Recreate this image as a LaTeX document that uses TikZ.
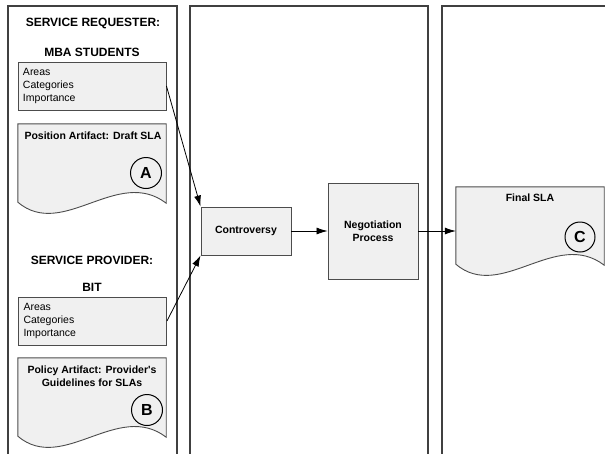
\documentclass[tikz,border=0pt]{standalone}
\usepackage{fontspec}
\setmainfont{Liberation Sans}
\usetikzlibrary{arrows.meta,calc}

\begin{document}
\begin{tikzpicture}[x=1pt, y=-1pt, >={Latex[length=11pt,width=7pt]},
      every node/.append style={font=\fontsize{10.5}{13}\selectfont},
      lane/.style={draw=black!75,line width=1.1pt},
      arr/.style={->,draw=black,line width=0.8pt}]
    \tikzstyle{box} = [rectangle,draw=black!70,fill=gray!12,line width=0.9pt]
    \tikzstyle{head} = [font=\fontsize{12}{14}\selectfont\bfseries]
    \tikzstyle{title} = [font=\fontsize{10.5}{13}\selectfont\bfseries,align=center,anchor=north]
    \tikzstyle{doc} = [rectangle,inner sep=0pt,minimum width=148pt,minimum height=78pt]
    \tikzstyle{tag} = [circle,draw=black,line width=1pt,minimum size=31pt,inner sep=0pt,
                       font=\fontsize{16}{16}\selectfont\bfseries]
    \tikzstyle{items} = [box,minimum width=148pt,minimum height=48pt,text width=138pt,
                         inner xsep=5pt,align=left]
    \clip (0,0) rectangle (605,453);
    \draw[lane] (8,460) -- (8,6) -- (177,6) -- (177,460);
    \draw[lane] (190,460) -- (190,6) -- (428,6) -- (428,460);
    \draw[lane] (442,460) -- (442,6) -- (620,6);

    \node[head] (requester) at (93,23) {SERVICE REQUESTER:};
    \node[head] (mba_head) at (92,52) {MBA STUDENTS};
    \node[items] (mba) at (92,86) {Areas\\Categories\\Importance};
    \node[doc] (draftsla) at (92,163) {};

    \node[head] (provider) at (92,260) {SERVICE PROVIDER:};
    \node[head] (bit_head) at (92,287) {BIT};
    \node[items] (bit) at (92.5,321) {Areas\\Categories\\Importance};
    \node[doc] (policy) at (92,397) {};

    \node[box,minimum width=90pt,minimum height=48pt,font=\fontsize{10.5}{13}\selectfont\bfseries]
      (contro) at (246,231) {Controversy};
    \node[box,minimum width=90pt,minimum height=96pt,align=center,font=\fontsize{10.5}{13}\selectfont\bfseries]
      (nego) at (373,231) {Negotiation\\Process};
    \node[doc,minimum height=77pt] (finalsla) at (530,225.5) {};

    \foreach \d in {draftsla,policy,finalsla}
      \filldraw[box] (\d.south west) .. controls ($(\d.south west)+(45,38)$)
        and ($(\d.south west)+(100,-36)$) .. ($(\d.south east)+(0,1)$)
        -- (\d.north east) -- (\d.north west) -- cycle;

    \node[title] (draft_title) at ($(draftsla.north)+(1,5)$) {Position Artifact: Draft SLA};
    \node[tag] (A) at (146,173) {A};
    \node[title] (policy_title) at ($(policy.north)+(0,5)$)
      {Policy Artifact: Provider\textquotesingle s\\Guidelines for SLAs};
    \node[tag] (B) at (147,410) {B};
    \node[title] (final_title) at ($(finalsla.north)+(0,4)$) {Final SLA};
    \node[tag,minimum size=30pt] (C) at (580,237) {C};

    \draw[arr] (mba.east) -- (contro.north west);
    \draw[arr] (bit.east) -- (contro.south west);
    \draw[arr] (contro.east) -- (nego.west);
    \draw[arr] (nego.east) -- (nego.east -| finalsla.west);
  \end{tikzpicture}
\end{document}
